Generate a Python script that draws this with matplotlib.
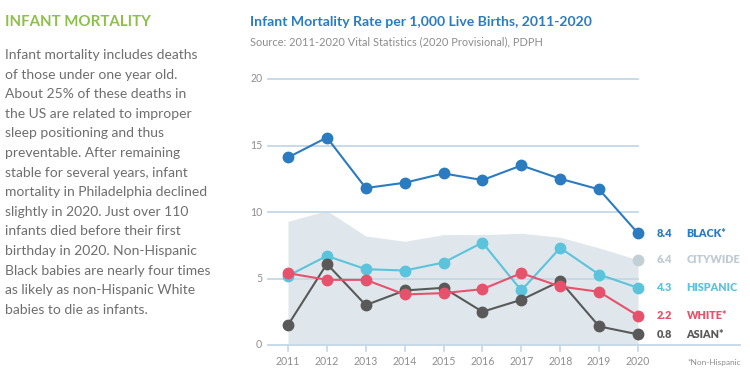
import matplotlib
matplotlib.use("Agg")
import matplotlib.pyplot as plt

years = [2011, 2012, 2013, 2014, 2015, 2016, 2017, 2018, 2019, 2020]
citywide = [9.3, 10.1, 8.2, 7.8, 8.3, 8.3, 8.4, 8.1, 7.3, 6.4]
black = [14.1, 15.6, 11.8, 12.2, 12.9, 12.4, 13.5, 12.5, 11.7, 8.4]
hispanic = [5.2, 6.7, 5.7, 5.6, 6.2, 7.7, 4.1, 7.3, 5.3, 4.3]
white = [5.4, 4.9, 4.9, 3.8, 3.9, 4.2, 5.4, 4.4, 4.0, 2.2]
asian = [1.5, 6.1, 3.0, 4.1, 4.3, 2.5, 3.4, 4.8, 1.4, 0.8]
yticks = [0, 5, 10, 15, 20]

names = ["BLACK*", "CITYWIDE", "HISPANIC", "WHITE*", "ASIAN*"]
colors = {"BLACK*": "#2b7bc0", "CITYWIDE": "#c3cfd6", "HISPANIC": "#5cc3dc",
          "WHITE*": "#e8516b", "ASIAN*": "#595959"}

plt.rcParams['font.family'] = ['Lato', 'DejaVu Sans']

W, H = 750, 375
fig = plt.figure(figsize=(7.5, 3.75), dpi=100)
renderer = fig.canvas.get_renderer()


def fit_size(text, target_px, weight='normal'):
    t = fig.text(0, 0, text, fontsize=10, fontweight=weight)
    w = t.get_window_extent(renderer).width
    t.remove()
    return 10 * target_px / w


left_px, right_px, top_px, bot_px = 268, 742, 79, 345
ax = fig.add_axes([left_px / W, (H - bot_px) / H, (right_px - left_px) / W, (bot_px - top_px) / H])
px_per_year = (638 - 288) / 9.0
x0 = 2011 - (288 - left_px) / px_per_year
x1 = 2020 + (right_px - 638) / px_per_year
ax.set_xlim(x0, x1)
ax.set_ylim(0, 20)
for s in ax.spines.values():
    s.set_visible(False)
ax.set_xticks([])
ax.set_yticks([])

grid_c = "#c4d8e6"
tick_c = "#8f8f8f"
fs_tick = fit_size("2011", 24.5)
for yv in yticks:
    if yv == 0:
        ax.plot([x0, x1 - 0.05], [0, 0], color=grid_c, lw=1.3, clip_on=False, zorder=1)
    else:
        ax.plot([x0, 2020], [yv, yv], color=grid_c, lw=1.3, clip_on=False, zorder=1)
    ax.text(x0 - 0.15, yv, str(yv), ha='right', va='center', fontsize=fs_tick, color=tick_c)

for yr in years:
    ax.plot([yr, yr], [0, -0.45], color=grid_c, lw=1.2, clip_on=False)
    ax.text(yr, -1.25, str(yr), ha='center', va='center', fontsize=fs_tick, color=tick_c)

ax.fill_between(years, 0, citywide, color="#dfe7ec", lw=0, zorder=0)
ax.plot([years[-1]], [citywide[-1]], 'o', color=colors["CITYWIDE"], ms=7.5, zorder=3)

series = [("BLACK*", black), ("HISPANIC", hispanic), ("ASIAN*", asian), ("WHITE*", white)]
for name, vals in series:
    ax.plot(years, vals, '-o', color=colors[name], lw=1.5, ms=7.5, zorder=4)

fs_val = fit_size("4.3", 15.5, 'heavy')
fs_name = fit_size("HISPANIC", 51, 'heavy')
ends = [("BLACK*", black[-1]), ("CITYWIDE", citywide[-1]), ("HISPANIC", hispanic[-1]),
        ("WHITE*", white[-1]), ("ASIAN*", asian[-1])]
for name, v in ends:
    c = colors[name]
    if name == "CITYWIDE":
        c = "#bfcbd2"
    ax.text(2020.48, v, f"{v:.1f}", ha='left', va='center', fontsize=fs_val, fontweight='heavy', color=c)
    ax.text(2021.25, v, name, ha='left', va='center', fontsize=fs_name, fontweight='heavy', color=c)

fig.text(687 / W, 1 - 363 / H, "*Non-Hispanic", fontsize=fit_size("*Non-Hispanic", 53),
         color="#8c8c8c", ha='left', va='center')

title = "Infant Mortality Rate per 1,000 Live Births, 2011-2020"
fig.text(250 / W, 1 - 22 / H, title, fontsize=fit_size(title, 342, 'bold'),
         fontweight='bold', color="#2b7bc0", ha='left', va='center')
sub = "Source: 2011-2020 Vital Statistics (2020 Provisional), PDPH"
fig.text(250 / W, 1 - 42 / H, sub, fontsize=fit_size(sub, 290),
         color="#8c8c8c", ha='left', va='center')

head = "INFANT MORTALITY"
fig.text(5 / W, 1 - 22 / H, head, fontsize=fit_size(head, 146, 'bold'), fontweight='bold',
         color="#8dc04b", ha='left', va='center')
body = ["Infant mortality includes deaths",
        "of those under one year old.",
        "About 25% of these deaths in",
        "the US are related to improper",
        "sleep positioning and thus",
        "preventable. After remaining",
        "stable for several years, infant",
        "mortality in Philadelphia declined",
        "slightly in 2020. Just over 110",
        "infants died before their first",
        "birthday in 2020. Non-Hispanic",
        "Black babies are nearly four times",
        "as likely as non-Hispanic White",
        "babies to die as infants."]
fs_body = fit_size(body[11], 206)
for i, line in enumerate(body):
    fig.text(5 / W, 1 - (55 + i * 19.6) / H, line, fontsize=fs_body, color="#6e6e6e",
             ha='left', va='center')

fig.savefig("out.png", dpi=100)
